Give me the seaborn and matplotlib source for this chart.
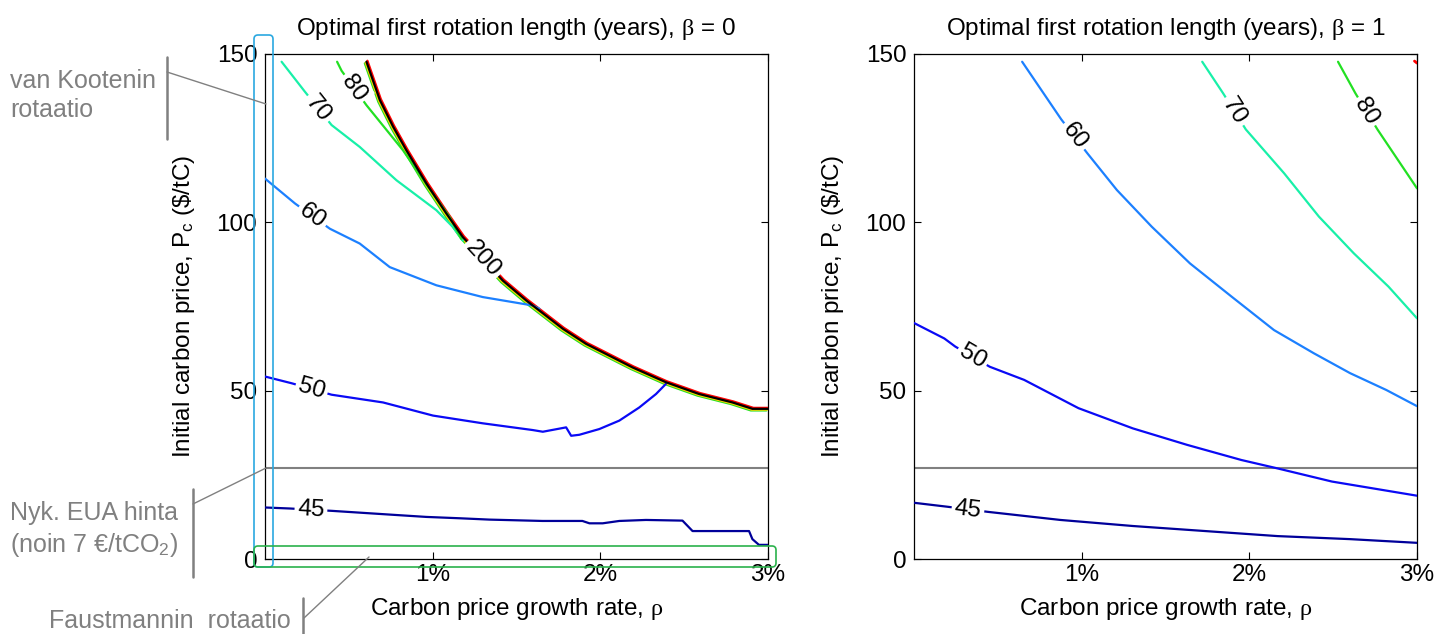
"""Optimal first rotation length contours for beta = 0 and beta = 1, with the
Finnish side notes that point at the reference rotations and the EUA price."""

import matplotlib.pyplot as plt
import matplotlib.transforms as mtransforms
import numpy as np
import seaborn as sns
from matplotlib.lines import Line2D
from matplotlib.patches import FancyBboxPatch

W, H, DPI = 1448, 634, 100

RHO_TICKS = [1, 2, 3]
PRICE_TICKS = [0, 50, 100, 150]
EUA_PRICE = 27

# beta = 0 contours: x = carbon price growth rate (%), y = initial price ($/tC)
B0_45_X = [0.0, 0.149, 0.399, 0.804, 0.962, 1.161, 1.339, 1.655, 1.893, 1.935,
           2.014, 2.113, 2.272, 2.490, 2.550, 2.887, 2.907, 2.946, 3.0]
B0_45_Y = [15.3, 15.0, 14.3, 13.0, 12.5, 12.1, 11.7, 11.3, 11.3, 10.6,
           10.6, 11.3, 11.6, 11.4, 8.3, 8.3, 5.9, 4.2, 4.2]
B0_50_X = [0.0, 0.159, 0.397, 0.704, 1.002, 1.299, 1.597, 1.657, 1.796, 1.826,
           1.875, 1.994, 2.113, 2.232, 2.332, 2.391]
B0_50_Y = [54.2, 52.2, 48.8, 46.5, 42.6, 40.3, 38.3, 37.8, 39.1, 36.6,
           36.9, 38.6, 41.1, 45.0, 49.0, 52.0]
B0_60_X = [0.0, 0.179, 0.387, 0.565, 0.744, 1.022, 1.299, 1.597, 1.637]
B0_60_Y = [113.0, 105.6, 98.1, 93.7, 86.7, 81.3, 77.8, 75.3, 74.3]
B0_70_X = [0.099, 0.238, 0.397, 0.565, 0.784, 1.022, 1.121, 1.180]
B0_70_Y = [147.7, 138.8, 128.9, 122.4, 112.5, 103.6, 98.6, 94.6]
B0_80_X = [0.430, 0.457, 0.605, 0.823, 1.002, 1.101, 1.171]
B0_80_Y = [147.7, 145.0, 134.8, 121.4, 108.5, 101.6, 95.1]
B0_200_X = [0.605, 0.685, 0.764, 0.843, 0.963, 1.082, 1.180, 1.418, 1.558,
            1.776, 1.915, 2.192, 2.391, 2.589, 2.788, 2.907, 3.0]
B0_200_Y = [147.7, 136.3, 128.4, 121.4, 111.5, 102.6, 95.6, 82.7, 76.8,
            68.4, 63.9, 56.9, 52.5, 49.0, 46.5, 44.6, 44.6]
B0_LABEL_X = [0.274, 0.278, 0.283, 0.318, 0.531, 1.299]
B0_LABEL_Y = [14.65, 50.5, 101.85, 133.85, 139.9, 89.15]
B0_LABEL_TEXT = ["45", "50", "60", "70", "80", "200"]

# beta = 1 contours
B1_45_X = [0.0, 0.203, 0.441, 0.873, 1.305, 1.737, 2.169, 2.601, 3.0]
B1_45_Y = [16.7, 15.5, 14.0, 11.6, 9.8, 8.3, 6.8, 5.9, 4.8]
B1_50_X = [0.0, 0.181, 0.246, 0.452, 0.657, 0.981, 1.305, 1.629, 1.953, 2.169,
           2.493, 3.0]
B1_50_Y = [70.1, 65.5, 63.1, 57.1, 53.2, 44.8, 38.8, 33.9, 29.4, 26.9,
           23.0, 18.8]
B1_60_X = [0.645, 0.878, 1.034, 1.210, 1.418, 1.646, 1.895, 2.147, 2.385,
           2.601, 2.817, 3.0]
B1_60_Y = [147.7, 130.6, 120.5, 109.6, 98.7, 87.8, 77.9, 68.0, 61.1,
           55.2, 50.2, 45.4]
B1_70_X = [1.719, 1.844, 1.979, 2.207, 2.415, 2.623, 2.830, 3.0]
B1_70_Y = [147.7, 138.3, 127.6, 114.6, 101.7, 90.8, 80.9, 71.5]
B1_80_X = [2.529, 2.633, 2.764, 3.0]
B1_80_Y = [147.7, 138.3, 127.6, 110.1]
B1_200_X = [2.985, 3.0]
B1_200_Y = [147.9, 147.3]
B1_LABEL_X = [0.322, 0.349, 0.956, 1.911, 2.699]
B1_LABEL_Y = [14.75, 60.1, 125.55, 132.95, 132.95]
B1_LABEL_TEXT = ["45", "50", "60", "70", "80"]

LEVEL_COLORS = {"45": "#00009A", "50": "#0A0AF5", "60": "#1C80FF",
                "70": "#18F0A8", "80": "#22E022", "200": "black"}
GREY = "#808080"
FS = 17.5
FS_NOTE = 18

sns.set_theme(style="white", rc={"axes.edgecolor": "black", "text.color": "black",
                                 "axes.labelcolor": "black", "xtick.color": "black",
                                 "ytick.color": "black"})
plt.rcParams["font.family"] = ["Liberation Sans", "DejaVu Sans"]
plt.rcParams["mathtext.fontset"] = "custom"
plt.rcParams["mathtext.rm"] = "Liberation Sans"
plt.rcParams["mathtext.it"] = "Liberation Serif"


def draw_contour(ax, xs, ys, level, **kw):
    sns.lineplot(x=xs, y=ys, sort=False, estimator=None, color=LEVEL_COLORS[level],
                 linewidth=1.6, ax=ax, zorder=3, **kw)


def draw_labels(ax, lines, label_x, label_y, texts):
    for lx, ly, txt in zip(label_x, label_y, texts):
        xs, ys = lines[txt]
        i = int(np.clip(np.searchsorted(xs, lx), 1, len(xs) - 1))
        p0 = ax.transData.transform((xs[i - 1], ys[i - 1]))
        p1 = ax.transData.transform((xs[i], ys[i]))
        angle = np.degrees(np.arctan2(p1[1] - p0[1], p1[0] - p0[0]))
        ax.text(lx, ly, txt, fontsize=FS, color="black", rotation=angle,
                rotation_mode="anchor", ha="center", va="center", zorder=5,
                bbox=dict(boxstyle="square,pad=0.12", fc="white", ec="none"))


def style_axes(ax, beta):
    ax.set_xlim(0, 3)
    ax.set_ylim(0, 150)
    ax.set_xticks(RHO_TICKS, labels=[f"{t}%" for t in RHO_TICKS])
    ax.set_yticks(PRICE_TICKS)
    ax.tick_params(direction="in", length=5, width=0.8, colors="black",
                   top=True, right=True, bottom=True, left=True, labelsize=FS)
    ax.tick_params(axis="x", pad=3.5)
    ax.tick_params(axis="y", pad=5.5)
    for side in ax.spines.values():
        side.set_color("black")
        side.set_linewidth(0.9)
    ax.set_xlabel(r"Carbon price growth rate, $\rho$", fontsize=FS, labelpad=7)
    ax.set_ylabel(r"Initial carbon price, P$_\mathrm{c}$ (\$/tC)", fontsize=FS, labelpad=14)
    ax.set_title(rf"Optimal first rotation length (years), $\beta$ = {beta}",
                 fontsize=FS, pad=14)
    ax.axhline(EUA_PRICE, color=GREY, linewidth=1.5, zorder=2)


fig = plt.figure(figsize=(W / DPI, H / DPI), dpi=DPI)
ax0 = fig.add_axes([265 / W, 1 - 559 / H, 503 / W, 505 / H])
ax1 = fig.add_axes([914 / W, 1 - 559 / H, 503 / W, 505 / H])
style_axes(ax0, 0)
style_axes(ax1, 1)

# beta = 0 panel
b0_lines = {"45": (B0_45_X, B0_45_Y), "50": (B0_50_X, B0_50_Y),
            "60": (B0_60_X, B0_60_Y), "70": (B0_70_X, B0_70_Y),
            "80": (B0_80_X, B0_80_Y), "200": (B0_200_X, B0_200_Y)}
for shade, dx, dy in [("#22E022", -1.6, -1.6), ("#FFD400", -0.8, -0.8), ("red", 1.0, 1.0)]:
    shifted = mtransforms.offset_copy(ax0.transData, fig=fig, x=dx, y=dy, units="dots")
    sns.lineplot(x=B0_200_X, y=B0_200_Y, sort=False, estimator=None, color=shade,
                 linewidth=1.6, ax=ax0, zorder=3, transform=shifted)
for level, (xs, ys) in b0_lines.items():
    draw_contour(ax0, xs, ys, level)
draw_labels(ax0, b0_lines, B0_LABEL_X, B0_LABEL_Y, B0_LABEL_TEXT)

# beta = 1 panel
b1_lines = {"45": (B1_45_X, B1_45_Y), "50": (B1_50_X, B1_50_Y),
            "60": (B1_60_X, B1_60_Y), "70": (B1_70_X, B1_70_Y),
            "80": (B1_80_X, B1_80_Y)}
for level, (xs, ys) in b1_lines.items():
    draw_contour(ax1, xs, ys, level)
sns.lineplot(x=B1_200_X, y=B1_200_Y, sort=False, estimator=None, color="red",
             linewidth=2, ax=ax1, zorder=3)
draw_labels(ax1, b1_lines, B1_LABEL_X, B1_LABEL_Y, B1_LABEL_TEXT)

for ax in (ax0, ax1):
    ax.set_xlim(0, 3)
    ax.set_ylim(0, 150)


# side notes, placed in figure pixels (origin top left)
def fxy(x, y):
    return x / W, 1 - y / H


def note_line(x1, y1, x2, y2, lw=1.0):
    (a, b), (c, d) = fxy(x1, y1), fxy(x2, y2)
    fig.add_artist(Line2D([a, c], [b, d], transform=fig.transFigure, color=GREY, linewidth=lw))


def note_text(x, y, s):
    fig.text(*fxy(x, y), s, fontsize=FS_NOTE, color=GREY, ha="left", va="baseline")


note_text(10, 88, "van Kootenin")
note_text(10, 117, "rotaatio")
note_line(167, 57, 167, 139, lw=1.8)
note_line(167, 72, 266, 104)

note_text(10, 520, "Nyk. EUA hinta")
note_text(10, 552, r"(noin 7 €/tCO$_\mathrm{2}$)")
note_line(193, 489, 193, 577, lw=1.8)
note_line(193, 504, 266, 468)

note_text(49, 628, "Faustmannin  rotaatio")
note_line(303, 598, 303, 634, lw=1.8)
note_line(304, 618, 369, 557)

pix = mtransforms.IdentityTransform()
fig.add_artist(FancyBboxPatch((254, H - 567), 19, 532, boxstyle="round,pad=0,rounding_size=4",
                              transform=pix, fill=False, edgecolor="#2AA8E0", linewidth=1.2))
fig.add_artist(FancyBboxPatch((254, H - 567), 522, 21, boxstyle="round,pad=0,rounding_size=4",
                              transform=pix, fill=False, edgecolor="#2BB24C", linewidth=1.2))

fig.savefig("out.png", dpi=DPI)
